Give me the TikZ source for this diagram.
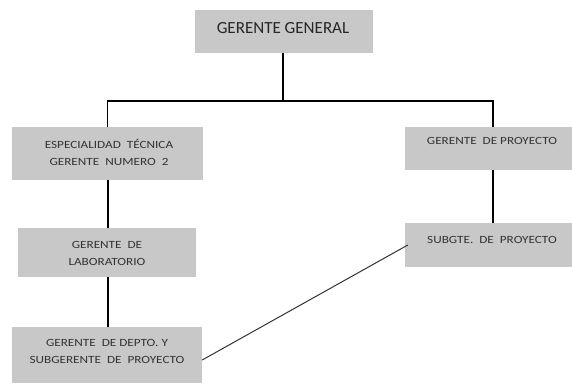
\documentclass[tikz,border=0pt]{standalone}
\usepackage{fontspec}
\setmainfont{Carlito}
\newfontfamily\boxfont[FakeStretch=1.2]{Carlito}
\definecolor{boxgray}{HTML}{C8C8C8}
\definecolor{txtgray}{HTML}{333333}
\begin{document}
\begin{tikzpicture}[x=1pt,y=-1pt,
  orgbox/.style={fill=boxgray, draw=none, inner sep=0pt},
  lbl/.style={text=txtgray, align=center, inner sep=0pt, font=\boxfont\fontsize{11}{17.5}\selectfont},
  toplbl/.style={text=black!85, inner sep=0pt, font=\fontsize{17}{19}\selectfont},
  conn/.style={line width=1.2pt, black}]
\useasboundingbox (0,0) rectangle (572,383);
\fill[white] (0,0) rectangle (572,383);
% boxes
\node[orgbox, minimum width=178pt, minimum height=43pt] (gg)  at (284,31.5) {};
\node[orgbox, minimum width=191pt, minimum height=53pt] (esp) at (107.5,153.5) {};
\node[orgbox, minimum width=167pt, minimum height=43pt] (gp)  at (488.5,148.5) {};
\node[orgbox, minimum width=178pt, minimum height=49pt] (lab) at (107,252.5) {};
\node[orgbox, minimum width=167pt, minimum height=44pt] (sub) at (488.5,245) {};
\node[orgbox, minimum width=190pt, minimum height=56pt] (dep) at (107,355) {};
% texts
\node[toplbl] (tgg) at (283,28) {GERENTE GENERAL};
\node[lbl] (tesp) at (109,152.5) {ESPECIALIDAD\ \ TÉCNICA\\GERENTE\ \ NUMERO\ \ 2};
\node[lbl] (tgp) at (492,141) {GERENTE\ \ DE PROYECTO};
\node[lbl] (tlab) at (107,253.5) {GERENTE\ \ DE\\LABORATORIO};
\node[lbl] (tsub) at (492,240) {SUBGTE.\ \ DE\ \ PROYECTO};
\node[lbl] (tdep) at (107,351.5) {GERENTE\ \ DE DEPTO.\ Y\\SUBGERENTE\ \ DE\ \ PROYECTO};
% connectors
\coordinate (bus) at (283,101);
\draw[conn] (gg.south -| bus) -- (bus);
\draw[conn] (esp.north) |- (bus);
\draw[conn] (bus) -| ([xshift=4.5pt]gp.north);
\draw[conn] ([xshift=0.5pt]esp.south) -- ([xshift=1pt]lab.north);
\draw[conn] ([xshift=1pt]lab.south) -- ([xshift=1pt]dep.north);
\draw[conn] ([xshift=4.5pt]gp.south) -- ([xshift=4.5pt]sub.north);
\draw[line width=1pt, black!80] ([yshift=-5pt]dep.east) -- ([xshift=3pt]sub.west);
\end{tikzpicture}
\end{document}
